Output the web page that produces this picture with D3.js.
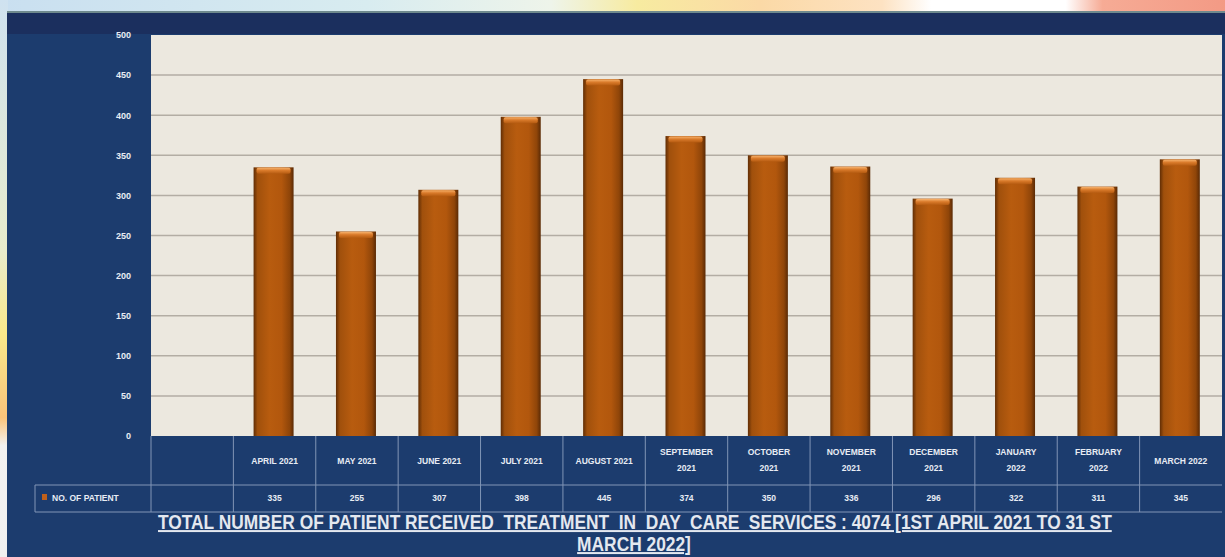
<!DOCTYPE html>
<html>
<head>
<meta charset="utf-8">
<script src="https://cdn.jsdelivr.net/npm/d3@7"></script>
<style>
  body { margin: 0; padding: 0; background: #fff; }
  svg { display: block; }
</style>
</head>
<body>
<div id="chart"></div>
<script>
// data
var months = ["APRIL 2021", "MAY 2021", "JUNE 2021", "JULY 2021", "AUGUST 2021", "SEPTEMBER 2021",
              "OCTOBER 2021", "NOVEMBER 2021", "DECEMBER 2021", "JANUARY 2022", "FEBRUARY 2022", "MARCH 2022"];
var monthLines = [["APRIL 2021"], ["MAY 2021"], ["JUNE 2021"], ["JULY 2021"], ["AUGUST 2021"], ["SEPTEMBER", "2021"],
                  ["OCTOBER", "2021"], ["NOVEMBER", "2021"], ["DECEMBER", "2021"], ["JANUARY", "2022"], ["FEBRUARY", "2022"], ["MARCH 2022"]];
var patients = [335, 255, 307, 398, 445, 374, 350, 336, 296, 322, 311, 345];
var yTicks = [0, 50, 100, 150, 200, 250, 300, 350, 400, 450, 500];
var seriesName = "NO. OF PATIENT";
var titleLine1 = "TOTAL NUMBER OF PATIENT RECEIVED  TREATMENT  IN  DAY  CARE  SERVICES : 4074 [1ST APRIL 2021 TO 31 ST";
var titleLine2 = "MARCH 2022]";

var W = 1225, H = 557;
var plot = {left: 151, right: 1222, top: 35, bottom: 436};
var rowHead = 485, rowData = 512;

var svg = d3.select("#chart").append("svg")
    .attr("width", W).attr("height", H);

var defs = svg.append("defs");

// background strip gradient (slide decoration)
var bg = defs.append("linearGradient").attr("id", "bgTop");
[["0%", "#c9dff0"], ["30%", "#d8ecf0"], ["45%", "#eef4ea"], ["52%", "#f7eba0"], ["62%", "#fbd9a6"],
 ["72%", "#fde2c2"], ["76%", "#ffffff"], ["87%", "#ffffff"], ["90%", "#f6ab95"], ["100%", "#f39a85"]]
  .forEach(function(s) { bg.append("stop").attr("offset", s[0]).attr("stop-color", s[1]); });

var bgLeft = defs.append("linearGradient").attr("id", "bgLeft")
    .attr("x1", 0).attr("y1", 0).attr("x2", 0).attr("y2", 1);
[["0%", "#cfe2f0"], ["45%", "#e8eccc"], ["60%", "#fbe98a"], ["75%", "#fbc47a"], ["80%", "#f3f2f0"], ["100%", "#f0f0f0"]]
  .forEach(function(s) { bgLeft.append("stop").attr("offset", s[0]).attr("stop-color", s[1]); });

var barGrad = defs.append("linearGradient").attr("id", "barGrad");
[["0%", "#602d05"], ["10%", "#a0500c"], ["40%", "#b85c0f"], ["70%", "#b2570d"], ["90%", "#8f4509"], ["100%", "#5a2a05"]]
  .forEach(function(s) { barGrad.append("stop").attr("offset", s[0]).attr("stop-color", s[1]); });

var capGrad = defs.append("linearGradient").attr("id", "capGrad")
    .attr("x1", 0).attr("y1", 0).attr("x2", 0).attr("y2", 1);
[["0%", "#f6b06a"], ["45%", "#d97a2a"], ["100%", "#b45a10"]]
  .forEach(function(s) { capGrad.append("stop").attr("offset", s[0]).attr("stop-color", s[1]); });

svg.append("rect").attr("width", W).attr("height", H).attr("fill", "url(#bgTop)");
svg.append("rect").attr("y", 0).attr("width", 8).attr("height", H).attr("fill", "url(#bgLeft)");

// navy panel
svg.append("rect").attr("x", 7).attr("y", 11).attr("width", W - 7).attr("height", H - 11)
    .attr("fill", "#1c3c6e");
svg.append("rect").attr("x", 7).attr("y", 11).attr("width", W - 7).attr("height", 2)
    .attr("fill", "#6f8a8e");
svg.append("rect").attr("x", 7).attr("y", 13).attr("width", W - 7).attr("height", 21)
    .attr("fill", "#1b2f5e");

// scales
var x = d3.scaleBand()
    .domain([""].concat(months))
    .range([plot.left, plot.right])
    .padding(0);

var y = d3.scaleLinear()
    .domain([0, 500])
    .range([plot.bottom, plot.top]);

// plot area
svg.append("rect")
    .attr("x", plot.left).attr("y", plot.top)
    .attr("width", plot.right - plot.left).attr("height", plot.bottom - plot.top)
    .attr("fill", "#ece8df");

// gridlines
svg.append("g")
  .selectAll("line")
  .data(yTicks.filter(function(d) { return d > 0 && d < 500; }))
  .enter().append("line")
    .attr("x1", plot.left).attr("x2", plot.right)
    .attr("y1", function(d) { return y(d); })
    .attr("y2", function(d) { return y(d); })
    .attr("stroke", "#b3ada4")
    .attr("stroke-width", 1.5);

// y axis labels
var yAxis = svg.append("g")
    .attr("transform", "translate(131,0)")
    .call(d3.axisLeft(y).tickValues(yTicks).tickSize(0).tickPadding(0));
yAxis.select(".domain").remove();
yAxis.selectAll("text")
    .attr("fill", "#e8ecf4")
    .attr("font-family", "Liberation Sans Narrow, Liberation Sans, sans-serif")
    .attr("font-weight", "bold")
    .attr("font-size", 9);

// bars
var bw = 40;
var bars = svg.append("g")
  .selectAll("g")
  .data(patients)
  .enter().append("g");

bars.append("rect")
    .attr("x", function(d, i) { return x(months[i]) + x.bandwidth() / 2 - bw / 2 - 1; })
    .attr("y", function(d) { return y(d); })
    .attr("width", bw)
    .attr("height", function(d) { return y(0) - y(d); })
    .attr("fill", "url(#barGrad)");

bars.append("rect")
    .attr("x", function(d, i) { return x(months[i]) + x.bandwidth() / 2 - bw / 2 + 2; })
    .attr("y", function(d) { return y(d) + 0.5; })
    .attr("width", bw - 6)
    .attr("height", 6)
    .attr("rx", 2)
    .attr("fill", "url(#capGrad)");

// table
var lineColor = "#8195b6";
var table = svg.append("g");

x.domain().forEach(function(d) {
  table.append("line")
    .attr("x1", x(d)).attr("x2", x(d))
    .attr("y1", plot.bottom).attr("y2", rowData)
    .attr("stroke", lineColor).attr("stroke-width", 1);
});
table.append("line")
    .attr("x1", 35).attr("x2", plot.right)
    .attr("y1", rowHead).attr("y2", rowHead)
    .attr("stroke", lineColor);
table.append("line")
    .attr("x1", 35).attr("x2", plot.right)
    .attr("y1", rowData).attr("y2", rowData)
    .attr("stroke", lineColor);
table.append("line")
    .attr("x1", 35).attr("x2", 35)
    .attr("y1", rowHead).attr("y2", rowData)
    .attr("stroke", lineColor);

var txtFont = "Liberation Sans Narrow, Liberation Sans, sans-serif";

// month headers
table.selectAll("text.month")
  .data(monthLines)
  .enter().append("text")
    .attr("class", "month")
    .attr("text-anchor", "middle")
    .attr("fill", "#e8ecf4")
    .attr("font-family", txtFont)
    .attr("font-weight", "bold")
    .attr("font-size", 8.5)
    .each(function(lines, i) {
      var cx = x(months[i]) + x.bandwidth() / 2;
      var y0 = lines.length === 1 ? 464 : 455;
      var t = d3.select(this);
      lines.forEach(function(l, k) {
        t.append("tspan").attr("x", cx).attr("y", y0 + k * 16).text(l);
      });
    });

// values row
table.selectAll("text.val")
  .data(patients)
  .enter().append("text")
    .attr("class", "val")
    .attr("x", function(d, i) { return x(months[i]) + x.bandwidth() / 2; })
    .attr("y", 501)
    .attr("text-anchor", "middle")
    .attr("fill", "#e8ecf4")
    .attr("font-family", txtFont)
    .attr("font-weight", "bold")
    .attr("font-size", 8.5)
    .text(function(d) { return d; });

// legend key
table.append("rect")
    .attr("x", 42).attr("y", 494).attr("width", 5).attr("height", 6)
    .attr("fill", "#c0601a");
table.append("text")
    .attr("x", 52).attr("y", 501)
    .attr("fill", "#e8ecf4")
    .attr("font-family", txtFont)
    .attr("font-weight", "bold")
    .attr("font-size", 8.5)
    .text(seriesName);

// title - squeezed horizontally to the width it has in the slide
var title = svg.append("g")
    .attr("fill", "#e4e8ef")
    .attr("font-family", txtFont)
    .attr("font-weight", "bold")
    .attr("font-size", 20);

var t1 = title.append("text")
    .attr("x", 0).attr("y", 0)
    .attr("text-decoration", "underline")
    .attr("xml:space", "preserve")
    .style("white-space", "pre")
    .text(titleLine1);
var w1 = t1.node().getComputedTextLength();
var sx = Math.min(1, 954 / w1);
t1.attr("transform", "translate(158,529) scale(" + sx + ",1)");

title.append("text")
    .attr("x", 0).attr("y", 0)
    .attr("text-anchor", "middle")
    .attr("text-decoration", "underline")
    .attr("transform", "translate(634,551) scale(" + Math.max(sx, 0.85) + ",1)")
    .text(titleLine2);
</script>
</body>
</html>
